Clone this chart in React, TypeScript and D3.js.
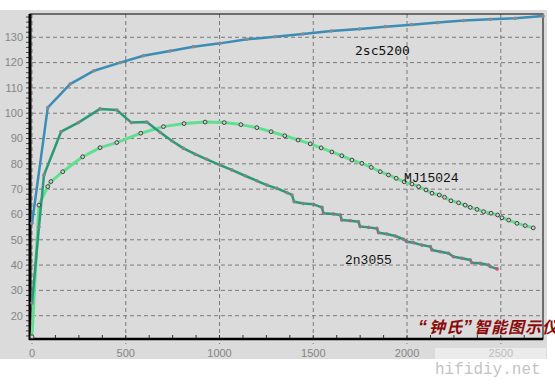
import React from "react";
import * as d3 from "d3";

const xTicks = [0, 500, 1000, 1500, 2000, 2500];
const yTicks = [20, 30, 40, 50, 60, 70, 80, 90, 100, 110, 120, 130];

const sc5200X = [0, 84, 203, 331, 470, 594, 736, 861, 1003, 1146, 1297, 1444, 1596, 1747, 1884, 2024, 2163, 2302, 2444, 2577, 2725];
const sc5200Y = [56.5, 102.2, 111.5, 116.8, 120, 122.7, 124.6, 126.3, 127.6, 129.2, 130.2, 131.3, 132.5, 133.3, 134.2, 135.0, 135.8, 136.6, 137.1, 137.5, 138.4];

const n3055X = [0, 37, 64, 155, 247, 363, 452, 530, 612, 683, 745, 808, 870, 932, 1003, 1065, 1136, 1199, 1253, 1306, 1360, 1386, 1398, 1448, 1501, 1546, 1554, 1608, 1644, 1652, 1697, 1741, 1750, 1795, 1839, 1848, 1892, 1937, 1981, 1999, 2035, 2079, 2124, 2133, 2177, 2221, 2248, 2293, 2337, 2346, 2390, 2435, 2444, 2480];
const n3055Y = [25, 55, 75.6, 92.7, 96.3, 101.7, 101.3, 96.3, 96.5, 92.5, 89.1, 86.1, 83.8, 81.8, 79.5, 77.6, 75.3, 73.3, 71.6, 70.3, 68.6, 67.7, 65.0, 64.3, 64.0, 62.8, 60.5, 60.2, 59.8, 57.8, 57.5, 57.1, 55.2, 54.9, 54.5, 52.8, 52.3, 51.5, 50.2, 49.2, 48.8, 47.9, 47.3, 46.0, 45.3, 44.7, 43.3, 42.7, 42.0, 40.9, 40.7, 40.0, 39.4, 38.5];

const mjX = [0, 37, 84, 101, 164, 270, 363, 452, 580, 701, 811, 923, 1025, 1114, 1199, 1275, 1348, 1419, 1484, 1542, 1599, 1652, 1706, 1759, 1809, 1857, 1901, 1942, 1985, 2026, 2062, 2101, 2133, 2172, 2200, 2234, 2275, 2310, 2337, 2373, 2408, 2448, 2483, 2506, 2542, 2586, 2630, 2673];
const mjY = [11.7, 63.7, 71, 73, 76.9, 82.8, 86.4, 88.4, 92.1, 94.7, 95.9, 96.5, 96.3, 95.5, 94.3, 92.7, 91.1, 89.4, 87.9, 86.3, 84.7, 83.2, 81.5, 80.2, 78.6, 76.9, 75.6, 74.3, 72.9, 72.0, 71.0, 69.7, 68.4, 67.7, 66.8, 65.4, 64.6, 63.7, 62.8, 62.0, 61.1, 60.5, 59.8, 58.7, 57.8, 56.5, 55.6, 54.7];

const seriesLabels = ["2sc5200", "MJ15024", "2n3055"];
const watermarkParts = ["“", "钟氏", "”", "智能图示仪"];
const site = "hifidiy.net";

const W = 555;
const H = 384;
const L = 32, R = 543, T = 14, B = 339;

export default function App() {
  const x = d3.scaleLinear().domain([0, 2725]).range([L, R]);
  const y = d3.scaleLinear().domain([10.8, 139.2]).range([B, T]);
  const line = d3.line<[number, number]>().x((d) => x(d[0])).y((d) => y(d[1]));
  const zip = (a: number[], b: number[]) => a.map((v, i) => [v, b[i]] as [number, number]);
  const blue = zip(sc5200X, sc5200Y);
  const teal = zip(n3055X, n3055Y);
  const mj = zip(mjX, mjY);
  const minorX = d3.range(0, 2725, 125);
  const minorY = d3.range(12, 139, 2);
  const tickFont = "'Liberation Sans', Arial, sans-serif";
  const quoteFont = "'Liberation Sans', Arial, sans-serif";
  const cjkFont = "'Noto Sans CJK SC', sans-serif";

  return (
    <svg width={W} height={H} style={{ position: "absolute", left: 0, top: 0 }}>
      <rect x={0} y={0} width={W} height={H} fill="#ffffff" />
      <rect x={0} y={10} width={547} height={349} fill="#dbdbdc" />
      {/* grid */}
      {yTicks.map((t) => (
        <line key={"gy" + t} x1={L} x2={R} y1={y(t)} y2={y(t)} stroke="#7a7a7a" strokeWidth={1} strokeDasharray="4,3" />
      ))}
      {xTicks.map((t) => (
        <line key={"gx" + t} x1={x(t)} x2={x(t)} y1={T} y2={B + 5} stroke="#7a7a7a" strokeWidth={1} strokeDasharray="4,3" />
      ))}
      {/* minor ticks */}
      {minorX.map((t) => (
        <line key={"mx" + t} x1={x(t)} x2={x(t)} y1={B - 4} y2={B} stroke="#333" strokeWidth={1} />
      ))}
      {minorY.map((t) => (
        <line key={"my" + t} x1={26} x2={29} y1={y(t)} y2={y(t)} stroke="#444" strokeWidth={1} />
      ))}
      {/* frame */}
      <rect x={L - 2} y={T} width={R - L + 2} height={B - T} fill="none" stroke="#000" strokeWidth={1} />
      <line x1={L - 2} x2={L - 2} y1={T} y2={B + 1} stroke="#000" strokeWidth={3} />
      <line x1={L - 3} x2={R} y1={B} y2={B} stroke="#000" strokeWidth={2.5} />
      {/* tick labels */}
      {yTicks.map((t) => (
        <text key={"ly" + t} x={23} y={y(t)} dy="0.35em" textAnchor="end" fontSize={11} fill="#858585" fontFamily={tickFont}>{t}</text>
      ))}
      {xTicks.map((t) => (
        <text key={"lx" + t} x={x(t)} y={357} textAnchor="middle" fontSize={11} fill="#858585" fontFamily={tickFont}>{t}</text>
      ))}
      {/* series */}
      <path d={line(mj) || ""} fill="none" stroke="#5fe08e" strokeWidth={3} strokeLinejoin="round" />
      <path d={line(teal) || ""} fill="none" stroke="#2b9a78" strokeWidth={2.5} strokeLinejoin="round" />
      <path d={line(blue) || ""} fill="none" stroke="#3a8db4" strokeWidth={2.5} strokeLinejoin="round" />
      {blue.map((d, i) => (
        <circle key={"bm" + i} cx={x(d[0])} cy={y(d[1])} r={1.8} fill="#8a8a8a" />
      ))}
      {teal.map((d, i) => (
        <circle key={"tm" + i} cx={x(d[0])} cy={y(d[1])} r={1.8} fill={i === teal.length - 1 ? "#c8506a" : d[0] > 1500 ? "#8f7484" : "#858585"} />
      ))}
      {mj.map((d, i) => (
        <circle key={"mm" + i} cx={x(d[0])} cy={y(d[1])} r={1.9} fill="#d0d0d0" stroke="#404040" strokeWidth={1} />
      ))}
      {/* labels */}
      <text x={355} y={55} fontSize={13} fontFamily="'DejaVu Sans Mono', monospace" fill="#111">{seriesLabels[0]}</text>
      <text x={404} y={182} fontSize={13} fontFamily="'Liberation Mono', monospace" fill="#111">{seriesLabels[1]}</text>
      <text x={345} y={264} fontSize={13} fontFamily="'Liberation Mono', monospace" fill="#111">{seriesLabels[2]}</text>
      <text x={418} y={333} fontSize={16} fontWeight="bold" fontStyle="italic" fill="#8b0a0a">
        <tspan fontFamily={quoteFont} fontSize={18}>{watermarkParts[0]}</tspan>
        <tspan fontFamily={cjkFont} dx={2} letterSpacing={1}>{watermarkParts[1]}</tspan>
        <tspan fontFamily={quoteFont} fontSize={18}>{watermarkParts[2]}</tspan>
        <tspan fontFamily={cjkFont} dx={2} letterSpacing={1}>{watermarkParts[3]}</tspan>
      </text>
      <rect x={435} y={348} width={111} height={11} fill="#ffffff" opacity={0.45} />
      <text x={435} y={374} fontSize={16} fontFamily="'Liberation Mono', monospace" fill="#c4c4c4">{site}</text>
    </svg>
  );
}
